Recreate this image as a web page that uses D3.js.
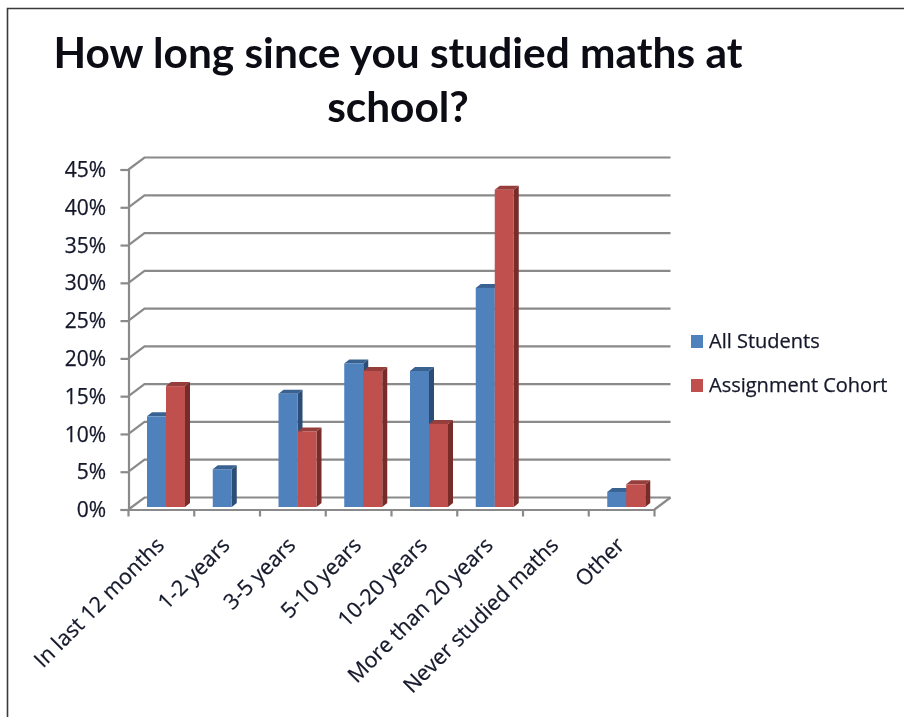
<!DOCTYPE html>
<html><head><meta charset="utf-8">
<script src="https://cdnjs.cloudflare.com/ajax/libs/d3/7.8.5/d3.min.js"></script>
<style>html,body{margin:0;padding:0;background:#fff;overflow:hidden}svg{display:block;filter:blur(0.6px)}</style>
</head><body><svg id="c" width="904" height="717"></svg>
<script>
const categories=["In last 12 months","1-2 years","3-5 years","5-10 years","10-20 years","More than 20 years","Never studied maths","Other"];
const allStudents=[12,5,15,19,18,29,0,2];
const assignmentCohort=[16,0,10,18,11,42,0,3];
const seriesNames=["All Students","Assignment Cohort"];
const yTicks=[0,5,10,15,20,25,30,35,40,45];
const titleLines=["How long since you studied maths at","school?"];

const svg=d3.select("#c");
const ink="#14182a", gridC="#8a8a8a", txtFont="Open Sans", txtSize=20;
const fx0=128.5,fx1=654.5,fy0=509.5,fy45=169.5,dx=16,dy=-12;
const yS=d3.scaleLinear().domain([0,45]).range([fy0,fy45]);
const xS=d3.scaleBand().domain(categories).range([fx0,fx1]).paddingInner(0).paddingOuter(0);
const bw=19;
const barBase=-2.5, sx=5, sy=-4;

// frame
svg.append("path").attr("d",`M7.5,717V8.5H904`).attr("fill","none").attr("stroke","#3a3a3a").attr("stroke-width",1.6);

// title
svg.append("g").selectAll("text").data(titleLines).join("text")
 .attr("x",398).attr("y",(d,i)=>68+i*54).attr("text-anchor","middle")
 .attr("font-family","Lato").attr("font-weight",700).attr("font-size",42.4).attr("fill","#0c0c14").text(d=>d);

// walls
const g=svg.append("g").attr("stroke",gridC).attr("stroke-width",2.2).attr("fill","none");
yTicks.forEach(t=>{
  g.append("path").attr("d",`M${fx0},${yS(t)}L${fx0+dx},${yS(t)+dy}H${fx1+dx}`);
});
g.append("path").attr("d",`M${fx1},${yS(0)}L${fx1+dx},${yS(0)+dy}`);

// axes
const yAxis=d3.axisLeft(yS).tickValues(yTicks).tickFormat(d=>d+"%").tickSize(8).tickPadding(5);
const ya=svg.append("g").attr("transform",`translate(${fx0},0)`).call(yAxis);
ya.select(".domain").attr("stroke",gridC).attr("stroke-width",2.2);
ya.selectAll(".tick line").attr("stroke",gridC).attr("stroke-width",2.2);
ya.selectAll("text").attr("font-family",txtFont).attr("font-size",21).attr("fill",ink).attr("stroke",ink).attr("stroke-width",0.25).attr("x",-22.5).attr("dy","0.34em").attr("text-anchor","end");

const xa=svg.append("g").attr("transform",`translate(0,${fy0})`).call(d3.axisBottom(xS).tickSize(0).tickSizeOuter(0));
xa.select(".domain").attr("stroke",gridC).attr("stroke-width",2.2);
xa.selectAll("text").attr("font-family",txtFont).attr("font-size",21.5).attr("fill",ink).attr("stroke",ink).attr("stroke-width",0.25)
  .attr("text-anchor","end").attr("dy",0).attr("y",0).attr("x",0)
  .attr("transform","translate(4,37) rotate(-45)");
svg.append("g").selectAll("line").data(categories.concat([null])).join("line")
  .attr("x1",(d,i)=>fx0+i*xS.step()).attr("x2",(d,i)=>fx0+i*xS.step())
  .attr("y1",fy0).attr("y2",fy0+7).attr("stroke",gridC).attr("stroke-width",2.2);

// bars
const palette=[{f:"#4f81bd",s:"#2c4d75",t:"#3a6290"},{f:"#c0504d",s:"#772c2a",t:"#963e3b"}];
const series=[allStudents,assignmentCohort];
const off=18.5;
const order=[];
categories.forEach((c,i)=>{series.forEach((vals,k)=>{if(vals[i]>0)order.push({c,k,v:vals[i]});});});
const bars=svg.append("g").selectAll("g").data(order).join("g");
const barLeft=d=>xS(d.c)+off+d.k*bw;
const barTop=d=>yS(d.v)+barBase;
const barBot=d=>yS(0)+barBase;
bars.append("path").attr("fill",d=>palette[d.k].s)
  .attr("d",d=>`M${barLeft(d)+bw},${barTop(d)}l${sx},${sy}V${barBot(d)+sy}l${-sx},${-sy}Z`);
bars.append("path").attr("fill",d=>palette[d.k].t)
  .attr("d",d=>`M${barLeft(d)},${barTop(d)}l${sx},${sy}h${bw}l${-sx},${-sy}Z`);
bars.append("rect").attr("fill",d=>palette[d.k].f)
  .attr("x",barLeft).attr("y",barTop).attr("width",bw).attr("height",d=>barBot(d)-barTop(d));

// legend
const lg=svg.append("g").selectAll("g").data(seriesNames).join("g").attr("transform",(d,i)=>`translate(691,${335+i*44})`);
lg.append("rect").attr("width",12).attr("height",13).attr("fill",(d,i)=>palette[i].f);
lg.append("text").attr("x",18).attr("y",13).attr("font-family",txtFont).attr("font-size",txtSize).attr("fill",ink).attr("stroke",ink).attr("stroke-width",0.25).text(d=>d);
</script></body></html>
